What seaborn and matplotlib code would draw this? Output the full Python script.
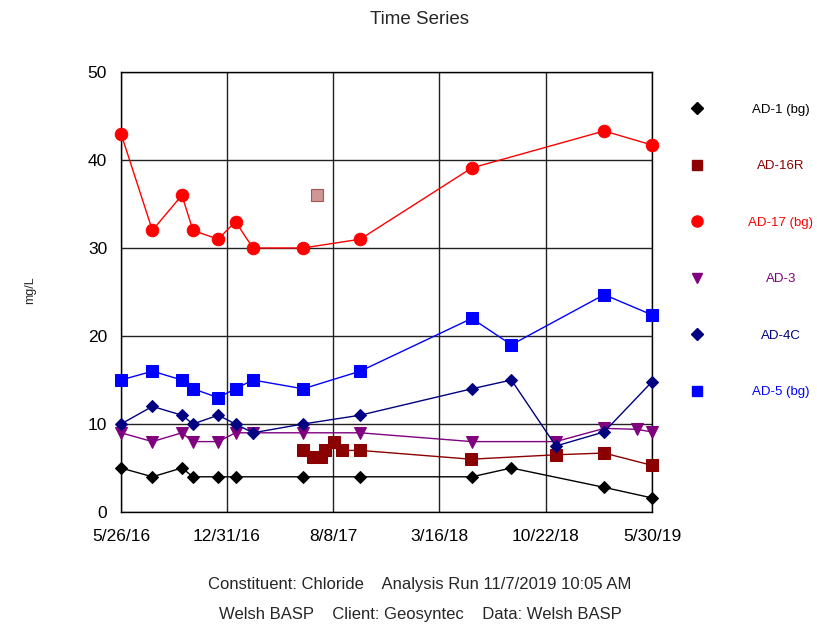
import matplotlib
matplotlib.use('Agg')
import matplotlib.pyplot as plt
import seaborn as sns
import pandas as pd

sns.set_theme(style='white')
plt.rcParams['font.family'] = ['Liberation Sans', 'DejaVu Sans']

# ---------------- data ----------------
series_names = ['AD-1 (bg)', 'AD-16R', 'AD-17 (bg)', 'AD-3', 'AD-4C', 'AD-5 (bg)']
series_colors = ['#000000', '#8B0000', '#FF0000', '#800080', '#000080', '#0000FF']
series_markers = ['D', 's', 'o', 'v', 'D', 's']

ad1_dates = ['2016-05-26', '2016-07-30', '2016-09-29', '2016-10-22', '2016-12-13', '2017-01-18',
             '2017-06-07', '2017-10-03', '2018-05-22', '2018-08-12', '2019-02-20', '2019-05-30']
ad1_vals = [5, 4, 5, 4, 4, 4, 4, 4, 4, 5, 2.8, 1.6]

ad16r_dates = ['2017-06-07', '2017-06-27', '2017-07-14', '2017-07-22', '2017-08-10', '2017-08-26',
               '2017-10-03', '2018-05-20', '2018-11-12', '2019-02-20', '2019-05-30']
ad16r_vals = [7, 6.2, 6.2, 7, 8, 7, 7, 6.0, 6.5, 6.7, 5.3]
ad16r_outlier_dates = ['2017-07-06']
ad16r_outlier_vals = [36]

ad17_dates = ['2016-05-26', '2016-07-30', '2016-09-29', '2016-10-22', '2016-12-13', '2017-01-18',
              '2017-02-23', '2017-06-07', '2017-10-03', '2018-05-22', '2019-02-20', '2019-05-30']
ad17_vals = [43, 32, 36, 32, 31, 33, 30, 30, 31, 39.1, 43.3, 41.7]

ad3_dates = ['2016-05-26', '2016-07-30', '2016-09-29', '2016-10-22', '2016-12-13', '2017-01-18',
             '2017-02-23', '2017-06-07', '2017-10-03', '2018-05-22', '2018-11-12', '2019-02-20',
             '2019-04-28', '2019-05-30']
ad3_vals = [9, 8, 9, 8, 8, 9, 9, 9, 9, 8, 8, 9.5, 9.4, 9.1]

ad4c_dates = ['2016-05-26', '2016-07-30', '2016-09-29', '2016-10-22', '2016-12-13', '2017-01-18',
              '2017-02-23', '2017-06-07', '2017-10-03', '2018-05-22', '2018-08-12', '2018-11-12',
              '2019-02-20', '2019-05-30']
ad4c_vals = [10, 12, 11, 10, 11, 10, 9, 10, 11, 14, 15, 7.5, 9.1, 14.8]

ad5_dates = ['2016-05-26', '2016-07-30', '2016-09-29', '2016-10-22', '2016-12-13', '2017-01-18',
             '2017-02-23', '2017-06-07', '2017-10-03', '2018-05-22', '2018-08-12', '2019-02-20',
             '2019-05-30']
ad5_vals = [15, 16, 15, 14, 13, 14, 15, 14, 16, 22, 19, 24.7, 22.4]

x_tick_labels = ['5/26/16', '12/31/16', '8/8/17', '3/16/18', '10/22/18', '5/30/19']
y_ticks = [0, 10, 20, 30, 40, 50]

title = 'Time Series'
y_label = 'mg/L'
footer1 = 'Constituent: Chloride    Analysis Run 11/7/2019 10:05 AM'
footer2 = 'Welsh BASP    Client: Geosyntec    Data: Welsh BASP'

all_dates = [ad1_dates, ad16r_dates, ad17_dates, ad3_dates, ad4c_dates, ad5_dates]
all_vals = [ad1_vals, ad16r_vals, ad17_vals, ad3_vals, ad4c_vals, ad5_vals]
marker_sizes = [6.3, 8, 9, 8, 6.3, 8]

# ---------------- figure ----------------
W, H = 817, 624
fig = plt.figure(figsize=(W / 100, H / 100), dpi=100)
ax = fig.add_axes([121 / W, 1 - 512 / H, (652 - 121) / W, (512 - 72) / H])
ax.set_facecolor('white')

for name, d, v, c, m, ms in zip(series_names, all_dates, all_vals, series_colors,
                                series_markers, marker_sizes):
    df = pd.DataFrame({'date': pd.to_datetime(d), 'value': v})
    sns.lineplot(data=df, x='date', y='value', ax=ax, color=c, marker=m, markersize=ms,
                 markeredgecolor=c, markerfacecolor=c, linewidth=1.0, clip_on=False,
                 zorder=3, legend=False)
    if name == 'AD-16R':
        odf = pd.DataFrame({'date': pd.to_datetime(ad16r_outlier_dates),
                            'value': ad16r_outlier_vals})
        sns.scatterplot(data=odf, x='date', y='value', ax=ax, marker='s', s=70,
                        color='#B05050', edgecolor='#8B0000', alpha=0.6, linewidth=0.8,
                        zorder=3, legend=False)

xt = pd.to_datetime(x_tick_labels, format='%m/%d/%y')
ax.set_xlim(xt[0], xt[-1])
ax.set_xticks(xt)
ax.set_xticklabels(x_tick_labels)
ax.set_ylim(0, 50)
ax.set_yticks(y_ticks)
ax.set_yticklabels([str(t) for t in y_ticks])
ax.grid(True, color='#222222', linewidth=1.0)
ax.set_axisbelow(True)
for s in ax.spines.values():
    s.set_color('black')
    s.set_linewidth(1.0)
ax.tick_params(axis='both', direction='out', length=5, width=1, color='black',
               labelsize=12.5, colors='black')
ax.tick_params(axis='y', pad=5)
ax.tick_params(axis='x', pad=7)
ax.set_xlabel('')
ax.set_ylabel('')

fig.text(420 / W, 1 - 20 / H, title, ha='center', va='center', fontsize=13.5)
fig.text(30 / W, 1 - 290 / H, y_label, ha='center', va='center', rotation=90, fontsize=9)
fig.text(420 / W, 1 - 585 / H, footer1, ha='center', va='center', fontsize=12)
fig.text(420 / W, 1 - 614 / H, footer2, ha='center', va='center', fontsize=12)

# ---------------- legend (right side) ----------------
lax = fig.add_axes([0, 0, 1, 1])
lax.set_xlim(0, W)
lax.set_ylim(H, 0)
lax.axis('off')
lax.patch.set_alpha(0)
leg_ms = [6, 7.5, 8, 7.5, 6, 7.5]
for i, (name, c, m, ms) in enumerate(zip(series_names, series_colors, series_markers, leg_ms)):
    yy = 108 + i * 56.6
    lax.plot([697], [yy], marker=m, color=c, markersize=ms, linestyle='none')
    lax.text(781, yy + 1.5, name, color=c, ha='center', va='center', fontsize=9.5)

fig.savefig('out.png', dpi=100, facecolor='white')
